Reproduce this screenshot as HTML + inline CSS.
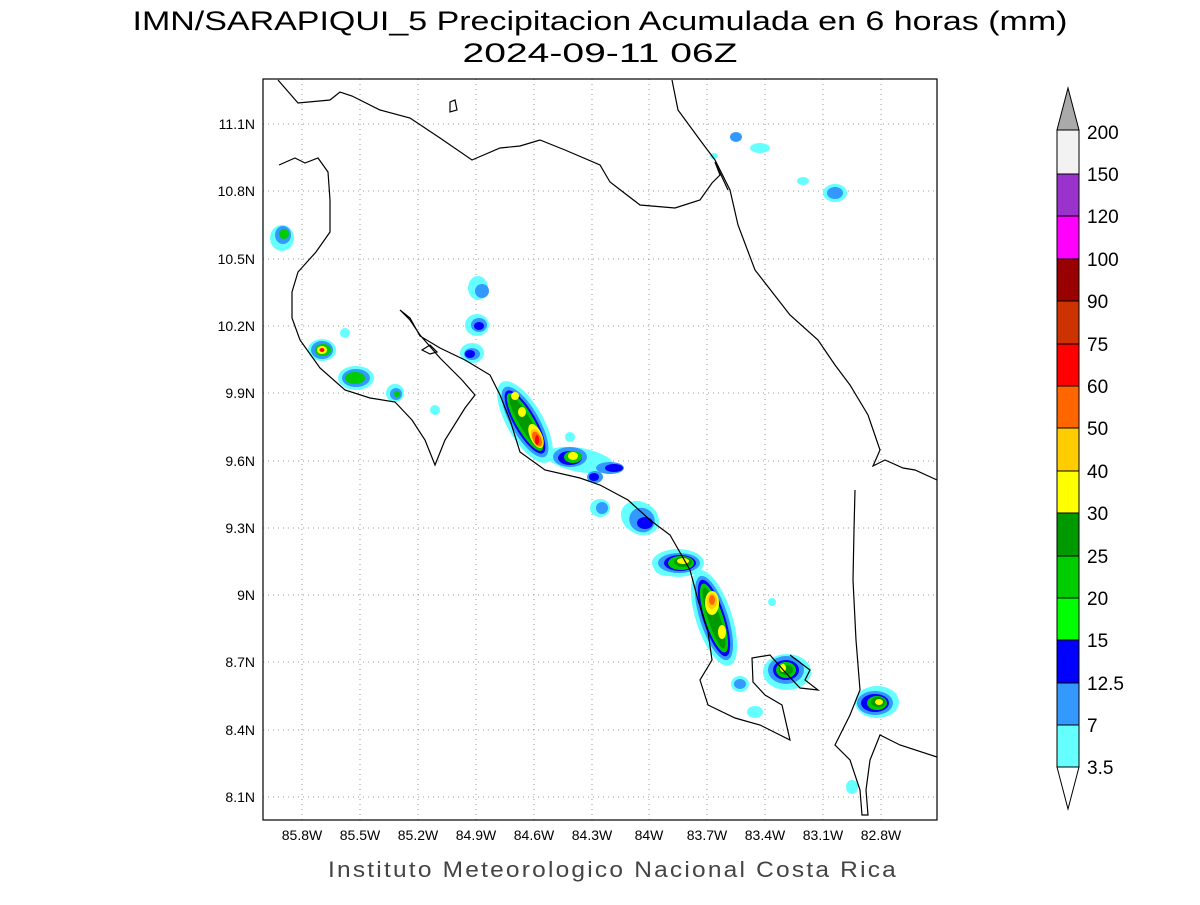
<!DOCTYPE html>
<html><head><meta charset="utf-8"><style>
body{margin:0;background:#fff;}
svg text{font-family:"Liberation Sans",sans-serif;}
</style></head><body>
<svg width="1200" height="900" viewBox="0 0 1200 900" xmlns="http://www.w3.org/2000/svg">
<rect width="1200" height="900" fill="#fff"/>
<text x="600" y="30" font-size="27" text-anchor="middle" textLength="935" lengthAdjust="spacingAndGlyphs">IMN/SARAPIQUI_5 Precipitacion Acumulada en 6 horas (mm)</text>
<text x="600" y="62" font-size="27" text-anchor="middle" textLength="275" lengthAdjust="spacingAndGlyphs">2024-09-11 06Z</text>
<text x="613" y="877" font-size="22" text-anchor="middle" fill="#444" textLength="570" lengthAdjust="spacingAndGlyphs" letter-spacing="2">Instituto Meteorologico Nacional Costa Rica</text>
<defs><clipPath id="c"><rect x="263" y="79" width="674" height="741"/></clipPath></defs>
<g clip-path="url(#c)">
<g stroke="#999" stroke-width="1" stroke-dasharray="1,4">
<line x1="302" y1="79" x2="302" y2="820"/><line x1="360" y1="79" x2="360" y2="820"/><line x1="418" y1="79" x2="418" y2="820"/><line x1="476" y1="79" x2="476" y2="820"/><line x1="534" y1="79" x2="534" y2="820"/><line x1="592" y1="79" x2="592" y2="820"/><line x1="649" y1="79" x2="649" y2="820"/><line x1="707" y1="79" x2="707" y2="820"/><line x1="765" y1="79" x2="765" y2="820"/><line x1="823" y1="79" x2="823" y2="820"/><line x1="881" y1="79" x2="881" y2="820"/>
<line x1="263" y1="124" x2="937" y2="124"/><line x1="263" y1="191" x2="937" y2="191"/><line x1="263" y1="259" x2="937" y2="259"/><line x1="263" y1="326" x2="937" y2="326"/><line x1="263" y1="393" x2="937" y2="393"/><line x1="263" y1="461" x2="937" y2="461"/><line x1="263" y1="528" x2="937" y2="528"/><line x1="263" y1="595" x2="937" y2="595"/><line x1="263" y1="662" x2="937" y2="662"/><line x1="263" y1="730" x2="937" y2="730"/><line x1="263" y1="797" x2="937" y2="797"/>
</g>
<g>
<g fill="#66ffff">
<ellipse cx="282" cy="238" rx="12" ry="13"/><ellipse cx="322" cy="350" rx="14" ry="11"/><ellipse cx="356" cy="378" rx="18" ry="12"/><ellipse cx="395" cy="393" rx="9" ry="9"/><ellipse cx="478" cy="288" rx="10" ry="12"/><ellipse cx="477" cy="325" rx="12" ry="11"/><ellipse cx="472" cy="353" rx="12" ry="10"/>
<ellipse cx="525" cy="422" rx="18" ry="46" transform="rotate(-30 525 422)"/>
<ellipse cx="580" cy="460" rx="34" ry="12" transform="rotate(10 580 460)"/><ellipse cx="600" cy="508" rx="10" ry="9"/><ellipse cx="640" cy="518" rx="20" ry="16" transform="rotate(30 640 518)"/><ellipse cx="678" cy="563" rx="26" ry="14"/>
<ellipse cx="714" cy="618" rx="18" ry="50" transform="rotate(-18 714 618)"/>
<ellipse cx="787" cy="672" rx="24" ry="18"/><ellipse cx="877" cy="702" rx="22" ry="16"/><ellipse cx="740" cy="684" rx="9" ry="8"/><ellipse cx="755" cy="712" rx="8" ry="6"/><ellipse cx="760" cy="148" rx="10" ry="5"/><ellipse cx="835" cy="193" rx="12" ry="9"/><ellipse cx="803" cy="181" rx="6" ry="4"/><ellipse cx="435" cy="410" rx="5" ry="5"/><ellipse cx="852" cy="787" rx="6" ry="7"/><ellipse cx="345" cy="333" rx="5" ry="5"/><ellipse cx="570" cy="437" rx="5" ry="5"/><ellipse cx="714" cy="156" rx="4" ry="3"/><ellipse cx="772" cy="602" rx="4" ry="4"/><ellipse cx="668" cy="568" rx="14" ry="8"/></g>
<g fill="#3399ff">
<ellipse cx="283" cy="235" rx="8" ry="9"/><ellipse cx="322" cy="350" rx="11" ry="9"/><ellipse cx="356" cy="378" rx="14" ry="9"/><ellipse cx="396" cy="394" rx="6" ry="6"/><ellipse cx="482" cy="291" rx="7" ry="7"/><ellipse cx="479" cy="325" rx="8" ry="7"/><ellipse cx="472" cy="354" rx="8" ry="6"/>
<ellipse cx="525" cy="422" rx="14" ry="40" transform="rotate(-30 525 422)"/>
<ellipse cx="570" cy="457" rx="17" ry="10"/><ellipse cx="610" cy="468" rx="14" ry="6"/><ellipse cx="595" cy="477" rx="8" ry="6"/><ellipse cx="602" cy="508" rx="6" ry="6"/><ellipse cx="642" cy="520" rx="13" ry="12" transform="rotate(30 642 520)"/><ellipse cx="679" cy="563" rx="21" ry="10"/>
<ellipse cx="714" cy="618" rx="14" ry="44" transform="rotate(-18 714 618)"/>
<ellipse cx="786" cy="670" rx="18" ry="14"/><ellipse cx="875" cy="703" rx="18" ry="12"/><ellipse cx="740" cy="684" rx="6" ry="5"/><ellipse cx="736" cy="137" rx="6" ry="5"/><ellipse cx="835" cy="193" rx="8" ry="6"/></g>
<g fill="#0000ff">
<ellipse cx="479" cy="326" rx="5" ry="4"/><ellipse cx="470" cy="354" rx="5" ry="4"/>
<ellipse cx="525" cy="422" rx="11" ry="36" transform="rotate(-30 525 422)"/>
<ellipse cx="570" cy="458" rx="12" ry="7"/><ellipse cx="614" cy="468" rx="9" ry="4"/><ellipse cx="594" cy="477" rx="5" ry="4"/><ellipse cx="645" cy="523" rx="8" ry="6"/><ellipse cx="680" cy="563" rx="16" ry="8"/>
<ellipse cx="714" cy="618" rx="11" ry="40" transform="rotate(-18 714 618)"/>
<ellipse cx="786" cy="670" rx="13" ry="10"/><ellipse cx="875" cy="703" rx="14" ry="9"/></g>
<g fill="#00cc00">
<ellipse cx="284" cy="234" rx="5" ry="5"/><ellipse cx="323" cy="350" rx="8" ry="6"/><ellipse cx="355" cy="378" rx="10" ry="6"/><ellipse cx="397" cy="394" rx="3" ry="3"/>
<ellipse cx="525" cy="422" rx="9" ry="33" transform="rotate(-30 525 422)"/>
<ellipse cx="573" cy="457" rx="9" ry="6"/><ellipse cx="681" cy="563" rx="13" ry="7"/>
<ellipse cx="714" cy="618" rx="9" ry="36" transform="rotate(-18 714 618)"/>
<ellipse cx="786" cy="670" rx="10" ry="8"/><ellipse cx="877" cy="703" rx="10" ry="7"/></g>
<g fill="#009900">
<ellipse cx="525" cy="422" rx="6" ry="30" transform="rotate(-30 525 422)"/>
<ellipse cx="683" cy="562" rx="9" ry="5"/>
<ellipse cx="714" cy="618" rx="6" ry="32" transform="rotate(-18 714 618)"/>
<ellipse cx="786" cy="670" rx="7" ry="5"/><ellipse cx="878" cy="702" rx="7" ry="5"/></g>
<g fill="#ffff00">
<ellipse cx="322" cy="350" rx="5" ry="4"/><ellipse cx="515" cy="396" rx="4" ry="4"/><ellipse cx="522" cy="412" rx="4" ry="5"/><ellipse cx="536" cy="436" rx="6" ry="13" transform="rotate(-25 536 436)"/><ellipse cx="573" cy="456" rx="5" ry="4"/><ellipse cx="683" cy="561" rx="6" ry="3"/><ellipse cx="712" cy="603" rx="7" ry="12"/><ellipse cx="722" cy="632" rx="4" ry="7"/><ellipse cx="783" cy="668" rx="3" ry="4"/><ellipse cx="879" cy="702" rx="4" ry="3"/></g>
<g fill="#ffcc00"><ellipse cx="537" cy="438" rx="5" ry="10" transform="rotate(-25 537 438)"/><ellipse cx="712" cy="601" rx="5" ry="8"/></g>
<g fill="#ff6600"><ellipse cx="537" cy="439" rx="4" ry="8" transform="rotate(-25 537 439)"/><ellipse cx="712" cy="600" rx="3" ry="5"/></g>
<g fill="#ff0000"><ellipse cx="322" cy="350" rx="2.5" ry="2"/><ellipse cx="537" cy="440" rx="2" ry="5"/></g>
</g>
<g fill="none" stroke="#000" stroke-width="1.2">
<path d="M278,80 L298,103 L330,100 L340,92 L352,96 L380,110 L410,118 L440,138 L472,160 L500,148 L520,146 L540,140 L565,150 L600,165 L610,182 L640,205 L675,208 L700,200 L712,183 L720,175 L715,162 L728,190"/>
<path d="M672,80 L678,110 L700,140 L715,160 L730,190 L738,225 L755,270 L790,315 L818,340 L835,365 L850,385 L868,415 L880,450 L873,466 L885,460 L903,468 L915,470 L937,480"/>
<path d="M279,165 L295,158 L305,163 L318,158 L328,172 L330,200 L330,232 L316,252 L298,272 L292,292 L292,318 L300,340 L320,368 L345,390 L370,398 L395,402 L412,420 L425,440 L435,465 L445,440 L465,408 L475,395 L462,380 L440,358 L420,335 L410,320 L400,310 L410,318 L420,336 L440,348 L465,360 L490,375 L500,395 L510,420 L520,452 L545,470 L580,478 L600,485 L628,500 L650,520 L670,535 L690,570 L698,600 L708,632 L712,660 L700,680 L708,705 L735,718 L760,725 L790,740 L782,705 L765,695 L753,682 L752,658 L770,655 L785,672 L800,688 L818,690 L805,680 L810,670 L790,655"/>
<path d="M855,490 L854,530 L853,580 L856,640 L860,690 L850,715 L835,745 L850,760 L860,790 L862,815 L868,815 L866,790 L870,760 L880,735 L900,745 L937,757"/>
<path d="M422,350 L430,345 L437,352 L430,354 Z"/>
<path d="M450,102 L455,100 L457,110 L450,112 Z"/>
</g>
</g>
<rect x="263" y="79" width="674" height="741" fill="none" stroke="#000" stroke-width="1.2"/>
<g font-size="14" text-anchor="end">
<text x="255" y="129">11.1N</text><text x="255" y="196">10.8N</text><text x="255" y="264">10.5N</text><text x="255" y="331">10.2N</text><text x="255" y="398">9.9N</text><text x="255" y="466">9.6N</text><text x="255" y="533">9.3N</text><text x="255" y="600">9N</text><text x="255" y="667">8.7N</text><text x="255" y="735">8.4N</text><text x="255" y="802">8.1N</text>
</g>
<g font-size="14" text-anchor="middle">
<text x="302" y="840">85.8W</text><text x="360" y="840">85.5W</text><text x="418" y="840">85.2W</text><text x="476" y="840">84.9W</text><text x="534" y="840">84.6W</text><text x="592" y="840">84.3W</text><text x="649" y="840">84W</text><text x="707" y="840">83.7W</text><text x="765" y="840">83.4W</text><text x="823" y="840">83.1W</text><text x="881" y="840">82.8W</text>
</g>
<g stroke="#000" stroke-width="1">
<polygon points="1057,130 1079,130 1068,88" fill="#aaaaaa"/>
<rect x="1057" y="130" width="22" height="44" fill="#f2f2f2"/>
<rect x="1057" y="174" width="22" height="42" fill="#9933cc"/>
<rect x="1057" y="216" width="22" height="43" fill="#ff00ff"/>
<rect x="1057" y="259" width="22" height="42" fill="#990000"/>
<rect x="1057" y="301" width="22" height="43" fill="#cc3300"/>
<rect x="1057" y="344" width="22" height="42" fill="#ff0000"/>
<rect x="1057" y="386" width="22" height="42" fill="#ff6600"/>
<rect x="1057" y="428" width="22" height="43" fill="#ffcc00"/>
<rect x="1057" y="471" width="22" height="42" fill="#ffff00"/>
<rect x="1057" y="513" width="22" height="43" fill="#009900"/>
<rect x="1057" y="556" width="22" height="42" fill="#00cc00"/>
<rect x="1057" y="598" width="22" height="42" fill="#00ff00"/>
<rect x="1057" y="640" width="22" height="43" fill="#0000ff"/>
<rect x="1057" y="683" width="22" height="42" fill="#3399ff"/>
<rect x="1057" y="725" width="22" height="42" fill="#66ffff"/>
<polygon points="1057,767 1079,767 1068,809" fill="#fff"/>
</g>
<g font-size="19">
<text x="1087" y="139">200</text><text x="1087" y="181">150</text><text x="1087" y="223">120</text><text x="1087" y="266">100</text><text x="1087" y="308">90</text><text x="1087" y="351">75</text><text x="1087" y="393">60</text><text x="1087" y="435">50</text><text x="1087" y="478">40</text><text x="1087" y="520">30</text><text x="1087" y="563">25</text><text x="1087" y="605">20</text><text x="1087" y="647">15</text><text x="1087" y="690">12.5</text><text x="1087" y="732">7</text><text x="1087" y="774">3.5</text>
</g>
</svg>
</body></html>
